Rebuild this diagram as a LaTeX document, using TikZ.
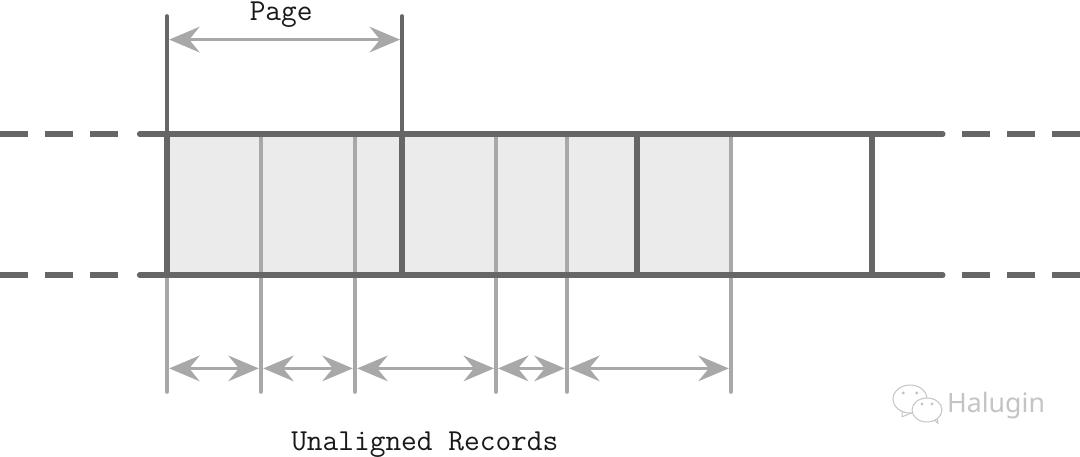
\documentclass[tikz,border=0pt]{standalone}
\usepackage{fontspec}
\newfontfamily\markfont{Noto Sans}
\usetikzlibrary{arrows.meta}
\definecolor{darkline}{HTML}{666666}
\definecolor{lightline}{HTML}{A8A8A8}
\definecolor{recordfill}{HTML}{EBEBEB}
\definecolor{markgray}{HTML}{C4C4C4}
\tikzset{
	thickline/.style={line width=1.35mm, color=darkline, line cap=round},
	thinline/.style={line width=0.9mm, color=darkline, line cap=round},
	brokenline/.style={line width=1.35mm, color=darkline, dash pattern=on 0.7cm off 0.425cm},
	recordline/.style={line width=0.9mm, color=lightline, line cap=round},
	sizearrow/.style={line width=0.9mm, color=lightline, {Stealth[length=7.6mm, width=6.4mm, inset=2.6mm]}-{Stealth[length=7.6mm, width=6.4mm, inset=2.6mm]}},
	label/.style={font=\ttfamily\fontsize{21.7}{25}\selectfont, text=black!90, inner sep=0pt},
	bubble/.style={line width=0.25mm, color=markgray, fill=white}
}
\begin{document}
\begin{tikzpicture}
		%%%%% START %%%%%
		\useasboundingbox (0, 0) rectangle (27, 11.4);
		
		\fill[recordfill] (4.175, 4.525) rectangle (18.275, 8.05);
		
		% record boundaries
		\foreach \recx in {4.175, 6.525, 8.875, 12.4, 14.175, 18.275}
			\draw[recordline] (\recx, 1.6) -- (\recx, 8.05);
		
		% page boundaries
		\draw[thinline] (4.175, 8.05) -- (4.175, 11);
		\draw[thinline] (10.05, 8.05) -- (10.05, 11);
		\foreach \pagex in {4.175, 10.05, 15.925, 21.8}
			\draw[thickline] (\pagex, 4.525) -- (\pagex, 8.05);
		
		% tape edges
		\foreach \edgey in {4.525, 8.05} {
			\draw[thickline] (3.49, \edgey) -- (23.57, \edgey);
			\draw[brokenline] (0, \edgey) -- (2.95, \edgey);
			\draw[brokenline] (24.05, \edgey) -- (27, \edgey);
		}
		
		\coordinate (pageL) at (4.23, 10.41);
		\coordinate (pageR) at (10, 10.41);
		\draw[sizearrow] (pageL) -- (pageR);
		\node[label] (pagelabel) at (7.03, 11.03) {Page};
		
		\coordinate (rec0) at (4.23, 2.19);
		\coordinate (rec1L) at (6.47, 2.19);
		\coordinate (rec1R) at (6.58, 2.19);
		\coordinate (rec2L) at (8.82, 2.19);
		\coordinate (rec2R) at (8.93, 2.19);
		\coordinate (rec3L) at (12.35, 2.19);
		\coordinate (rec3R) at (12.45, 2.19);
		\coordinate (rec4L) at (14.12, 2.19);
		\coordinate (rec4R) at (14.23, 2.19);
		\coordinate (rec5) at (18.22, 2.19);
		\draw[sizearrow] (rec0) -- (rec1L);
		\draw[sizearrow] (rec1R) -- (rec2L);
		\draw[sizearrow] (rec2R) -- (rec3L);
		\draw[sizearrow] (rec3R) -- (rec4L);
		\draw[sizearrow] (rec4R) -- (rec5);
		\node[label] (recordlabel) at (10.62, 0.29) {Unaligned Records};
		
		% watermark
		\draw[bubble] (22.55, 1.1) -- (22.55, 0.98) -- (22.85, 1.1);
		\draw[bubble] (22.75, 1.425) ellipse (0.425 and 0.35);
		\draw[bubble] (23.3, 0.95) -- (23.45, 0.82) -- (23.42, 1);
		\draw[bubble] (23.175, 1.15) ellipse (0.375 and 0.3);
		\foreach \eyex/\eyey in {22.58/1.575, 22.92/1.575, 23.05/1.3, 23.3/1.3}
			\fill[markgray] (\eyex, \eyey) circle (0.04);
		\node[font=\markfont\fontsize{19}{23}\selectfont, text=markgray, inner sep=0pt] (marklabel) at (24.9, 1.26) {Halugin};
		
		%%%%% END %%%%%
	\end{tikzpicture}
\end{document}
